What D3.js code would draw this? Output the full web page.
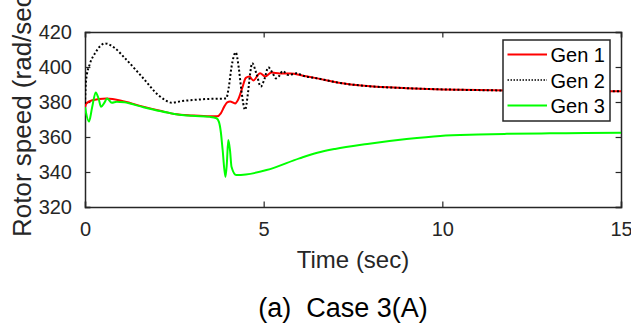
<!DOCTYPE html>
<html>
<head>
<meta charset="utf-8">
<script src="https://cdn.jsdelivr.net/npm/d3@7"></script>
<style>
  body { margin: 0; background: #fff; }
  svg { display: block; font-family: 'Liberation Sans', Arial, sans-serif; }
</style>
</head>
<body>
<div class="chart"></div>
<script>
// ============================================================================
// Data
// ============================================================================

var xTicks = [0, 5, 10, 15];
var yTicks = [320, 340, 360, 380, 400, 420];
var seriesNames = ['Gen 1', 'Gen 2', 'Gen 3'];

var gen1Time = [0, 0.03, 0.2, 0.6, 1.1, 1.6, 2.1, 2.5, 3.0, 3.5, 3.7, 3.8, 3.9, 3.98, 4.06, 4.2,
  4.3, 4.4, 4.5, 4.6, 4.71, 4.9, 5.04, 5.22, 5.45, 5.75, 6.1, 6.5, 7.1, 7.9, 9.0, 10.0,
  11.0, 12.0, 13.0, 14.0, 15.0];
var gen1Speed = [377, 379, 381, 382, 380.3, 377.5, 375, 373.2, 372.3, 371.8, 371.8, 373.5, 377.5, 379.8, 380.3, 379.2,
  382, 388, 393.8, 394.6, 392.3, 396.5, 394.6, 396.8, 396.3, 396.3, 395, 393.5, 391, 389.1, 387.9, 387.2,
  386.8, 386.5, 386.3, 386.2, 386.1];

var gen2Time = [0, 0.03, 0.14, 0.28, 0.56, 0.84, 1.12, 1.59, 2.05, 2.25, 2.43, 2.7, 3.0, 3.5, 3.95,
  4.02, 4.1, 4.22, 4.3, 4.38, 4.48, 4.56, 4.62, 4.68, 4.8, 4.92, 5.02, 5.13, 5.24, 5.34, 5.44,
  5.53, 5.69, 5.92, 6.1, 6.5, 7.1, 7.9, 9.0, 10.0, 11.0, 12.0, 13.0, 14.0, 15.0];
var gen2Speed = [379, 392.6, 402, 407.8, 413.5, 410.7, 405, 394.5, 384, 381, 379.6, 380.5, 381.1, 381.8, 382,
  388, 400, 408.3, 400, 386, 375.5, 385, 396, 402.2, 396, 388.8, 393, 399.8, 397, 393.5, 395,
  397.7, 395.4, 396.4, 395, 393.5, 391, 389.1, 387.9, 387.2, 386.8, 386.5, 386.3, 386.2, 386.1];

var gen3Time = [0, 0.11, 0.2, 0.3, 0.38, 0.45, 0.54, 0.62, 0.75, 0.89, 1.1, 1.6, 2.1, 2.5, 3.0, 3.5,
  3.68, 3.75, 3.8, 3.85, 3.93, 3.97, 4.01, 4.06, 4.1, 4.23, 4.5, 5.08, 6.0, 6.5, 7.0, 7.9,
  9.0, 9.94, 11.0, 11.8, 13.0, 14.0, 15.0];
var gen3Speed = [377, 368.8, 377, 385.5, 382, 377.3, 379.5, 382, 379.6, 380.2, 379.8, 377.2, 374.8, 373.2, 372.1, 371.5,
  370.7, 368.5, 363, 353, 337.2, 345, 358.3, 352, 343, 338.3, 338.6, 341.1, 347.8, 351, 353.2, 356,
  358.8, 360.6, 361.4, 361.8, 362.1, 362.3, 362.5];

// ============================================================================
// Create SVG
// ============================================================================

var svgWidth = 631;
var svgHeight = 324;

var margin = { top: 32, right: 10, bottom: 117, left: 85 };
var width = 621 - margin.left;
var height = 207 - margin.top;

var svg = d3.select('.chart')
  .append('svg')
  .attr('width', svgWidth)
  .attr('height', svgHeight);

var chartGroup = svg.append('g')
  .attr('transform', `translate(${margin.left}, ${margin.top})`);

var xScale = d3.scaleLinear().domain([0, 15]).range([0, width]);
var yScale = d3.scaleLinear().domain([320, 420]).range([height, 0]);

var axisColor = '#262626';
var tickLen = 5.4;

// clip the traces to the axes box
svg.append('defs').append('clipPath')
  .attr('id', 'plotClip')
  .append('rect')
  .attr('width', width)
  .attr('height', height);

// ============================================================================
// Axes (MATLAB style box with inward ticks)
// ============================================================================

var xAxisBottom = d3.axisBottom(xScale).tickValues(xTicks).tickSize(-tickLen).tickPadding(15);
var xAxisTop = d3.axisTop(xScale).tickValues(xTicks).tickSize(-tickLen).tickFormat('');
var yAxisLeft = d3.axisLeft(yScale).tickValues(yTicks).tickSize(-tickLen).tickPadding(13);
var yAxisRight = d3.axisRight(yScale).tickValues(yTicks).tickSize(-tickLen).tickFormat('');

var axes = [
  chartGroup.append('g').attr('transform', `translate(0, ${height})`).call(xAxisBottom),
  chartGroup.append('g').call(xAxisTop),
  chartGroup.append('g').call(yAxisLeft),
  chartGroup.append('g').attr('transform', `translate(${width}, 0)`).call(yAxisRight)
];

axes.forEach(function(g) {
  g.select('.domain').attr('stroke', axisColor).attr('stroke-width', 1.5);
  g.selectAll('.tick line').attr('stroke', axisColor).attr('stroke-width', 1.2);
  g.selectAll('.tick text')
    .attr('fill', axisColor)
    .style('font-size', '20px')
    .style('font-family', "'Liberation Sans', Arial, sans-serif");
});

// ============================================================================
// Traces
// ============================================================================

var line = d3.line()
  .x(d => xScale(d[0]))
  .y(d => yScale(d[1]))
  .curve(d3.curveMonotoneX);

var traces = [
  { name: seriesNames[0], data: d3.zip(gen1Time, gen1Speed), color: '#ff0000', dash: null },
  { name: seriesNames[1], data: d3.zip(gen2Time, gen2Speed), color: '#000000', dash: '2,2.2' },
  { name: seriesNames[2], data: d3.zip(gen3Time, gen3Speed), color: '#00ff00', dash: null }
];

var traceGroup = chartGroup.append('g').attr('clip-path', 'url(#plotClip)');

traces.forEach(function(t) {
  traceGroup.append('path')
    .datum(t.data)
    .attr('fill', 'none')
    .attr('stroke', t.color)
    .attr('stroke-width', 2)
    .attr('stroke-dasharray', t.dash)
    .attr('stroke-linejoin', 'round')
    .attr('d', line);
});

// ============================================================================
// Legend
// ============================================================================

var legend = svg.append('g').attr('transform', 'translate(503, 40)');

legend.append('rect')
  .attr('width', 107)
  .attr('height', 81)
  .attr('fill', '#fff')
  .attr('stroke', axisColor)
  .attr('stroke-width', 1.5);

traces.forEach(function(t, i) {
  var rowY = 14.5 + i * 25.5;
  legend.append('line')
    .attr('x1', 4.5).attr('x2', 44)
    .attr('y1', rowY).attr('y2', rowY)
    .attr('stroke', t.color)
    .attr('stroke-width', t.dash ? 1.5 : 2)
    .attr('stroke-dasharray', t.dash ? '1.5,1.5' : null);
  legend.append('text')
    .attr('x', 47.5)
    .attr('y', rowY + 7.5)
    .attr('fill', '#000')
    .style('font-size', '20px')
    .text(t.name);
});

// ============================================================================
// Labels
// ============================================================================

svg.append('text')
  .attr('x', margin.left + width / 2)
  .attr('y', 268)
  .attr('text-anchor', 'middle')
  .attr('fill', axisColor)
  .style('font-size', '24px')
  .text('Time (sec)');

// the reference figure crops this label at its top edge
svg.append('text')
  .attr('transform', 'translate(31, 237) rotate(-90)')
  .attr('text-anchor', 'start')
  .attr('fill', axisColor)
  .style('font-size', '26px')
  .text('Rotor speed (rad/sec)');

svg.append('text')
  .attr('x', 343)
  .attr('y', 316.5)
  .attr('text-anchor', 'middle')
  .attr('fill', '#000')
  .style('font-size', '27px')
  .style('white-space', 'pre')
  .text('(a)  Case 3(A)');
</script>
</body>
</html>
